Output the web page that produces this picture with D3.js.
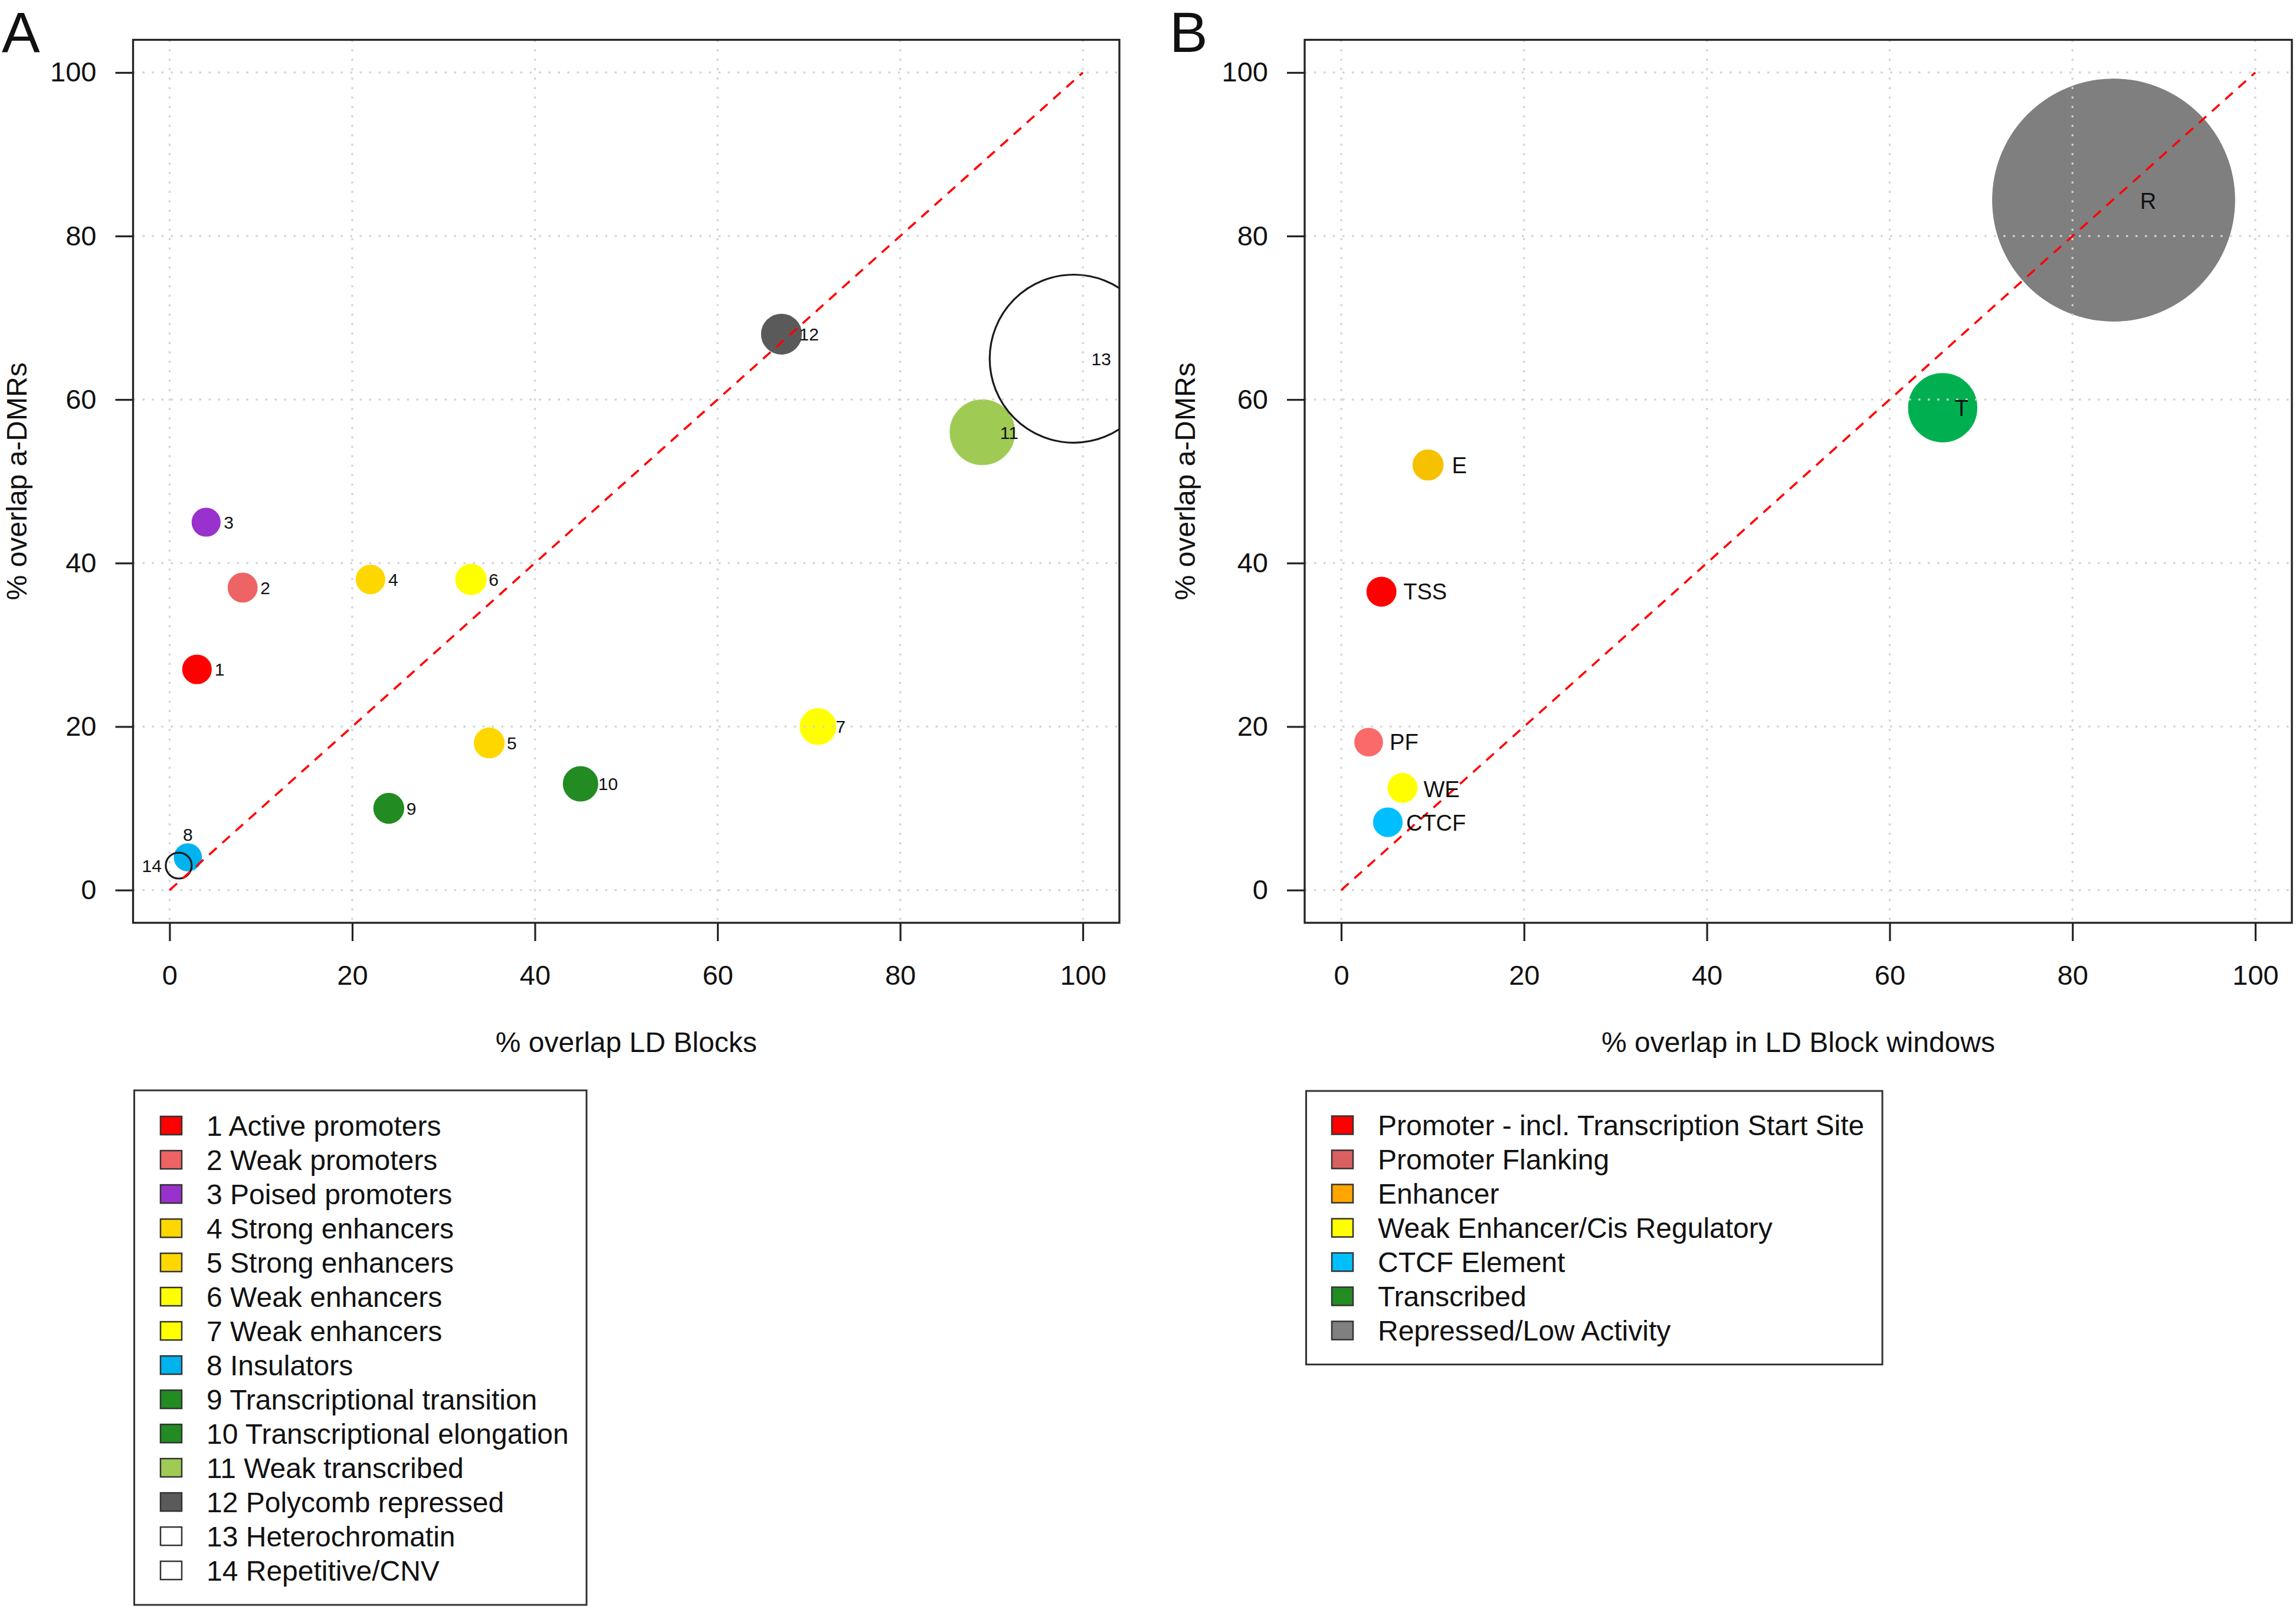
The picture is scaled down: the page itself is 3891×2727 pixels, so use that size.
<!DOCTYPE html>
<html>
<head>
<meta charset="utf-8">
<script src="https://cdn.jsdelivr.net/npm/d3@7"></script>
<style>
  body { margin: 0; background: #fff; }
  svg { display: block; }
  text { font-family: "Liberation Sans", Arial, Helvetica, sans-serif; fill: #111; }
</style>
</head>
<body>
<svg id="chart"></svg>
<script>
// ---------------- DATA ----------------
const ticks = [0, 20, 40, 60, 80, 100];

// Panel A: chromatin states (ChromHMM)
const statesA = [
  "1 Active promoters", "2 Weak promoters", "3 Poised promoters",
  "4 Strong enhancers", "5 Strong enhancers", "6 Weak enhancers",
  "7 Weak enhancers", "8 Insulators", "9 Transcriptional transition",
  "10 Transcriptional elongation", "11 Weak transcribed",
  "12 Polycomb repressed", "13 Heterochromatin", "14 Repetitive/CNV"
];
const labelsA = ["1","2","3","4","5","6","7","8","9","10","11","12","13","14"];
const xA = [3, 8, 4, 22, 35, 33, 71, 2, 24, 45, 89, 67, 99, 1];        // % overlap LD Blocks
const yA = [27, 37, 45, 38, 18, 38, 20, 4, 10, 13, 56, 68, 65, 3];     // % overlap a-DMRs
const sizeA = [1.58, 1.6, 1.55, 1.58, 1.65, 1.68, 1.97, 1.5, 1.65, 1.9, 3.55, 2.2, 9.2, 1.42]; // circle radius (x units)
const colorA = ["#FF0000", "#EE6363", "#9932CC", "#FFD700", "#FFD700", "#FFFF00",
                "#FFFF00", "#00B2EE", "#228B22", "#228B22", "#9FCB55", "#5A5A5A",
                "none", "none"];
const legendColorA = ["#FF0000", "#EE6363", "#9932CC", "#FFD700", "#FFD700", "#FFFF00",
                "#FFFF00", "#00B2EE", "#228B22", "#228B22", "#9FCB55", "#5A5A5A",
                "#FFFFFF", "#FFFFFF"];
const labelSideA = [4, 4, 4, 4, 4, 4, 4, 3, 4, 4, 4, 4, 4, 2]; // R text() pos codes

// Panel B: Ensembl regulatory build categories
const statesB = [
  "Promoter - incl. Transcription Start Site", "Promoter Flanking", "Enhancer",
  "Weak Enhancer/Cis Regulatory", "CTCF Element", "Transcribed", "Repressed/Low Activity"
];
const labelsB = ["TSS", "PF", "E", "WE", "CTCF", "T", "R"];
const xB = [4.4, 3.0, 9.5, 6.7, 5.1, 65.8, 84.5];     // % overlap in LD Block windows
const yB = [36.5, 18.1, 52.0, 12.5, 8.3, 59.0, 84.4]; // % overlap a-DMRs
const sizeB = [1.6, 1.53, 1.66, 1.6, 1.58, 3.75, 13.25];
const labelXB = [6.8, 5.3, 12.1, 9.0, 7.1, 67.1, 87.4];
const labelYB = [36.5, 18.1, 52.0, 12.35, 8.2, 59.0, 84.3];
const colorB = ["#FF0000", "#FA6A6A", "#F6C200", "#FFFF00", "#00BFFF", "#00B050", "#7F7F7F"];
const legendColorB = ["#FF0000", "#D9605F", "#FFA500", "#FFFF00", "#00BFFF", "#228B22", "#808080"];

// ---------------- DRAWING ----------------
const W = 3891, H = 2727;
const svg = d3.select("#chart").attr("width", W).attr("height", H)
  .attr("viewBox", `0 0 ${W} ${H}`);
svg.append("rect").attr("width", W).attr("height", H).attr("fill", "#fff");

function drawPanel(cfg) {
  const { box, id } = cfg;
  const g = svg.append("g");
  const x = d3.scaleLinear().domain([-4, 104]).range([box.x0, box.x1]);
  const y = d3.scaleLinear().domain([-4, 104]).range([box.y1, box.y0]);
  const rad = v => x(v) - x(0);

  g.append("clipPath").attr("id", "clip" + id)
    .append("rect").attr("x", box.x0).attr("y", box.y0)
    .attr("width", box.x1 - box.x0).attr("height", box.y1 - box.y0);

  const plot = g.append("g").attr("clip-path", `url(#clip${id})`);

  // circles
  plot.selectAll("circle.pt").data(cfg.xs).join("circle")
    .attr("class", "pt")
    .attr("cx", (d) => x(d))
    .attr("cy", (d, i) => y(cfg.ys[i]))
    .attr("r", (d, i) => rad(cfg.sizes[i]))
    .attr("fill", (d, i) => cfg.colors[i])
    .attr("stroke", (d, i) => cfg.colors[i] === "none" ? "#1a1a1a" : cfg.colors[i])
    .attr("stroke-width", (d, i) => cfg.colors[i] === "none" ? 3.2 : 1.2);

  // grid
  plot.selectAll("line.gv").data(ticks).join("line").attr("class", "gv")
    .attr("x1", d => x(d)).attr("x2", d => x(d))
    .attr("y1", box.y0).attr("y2", box.y1);
  plot.selectAll("line.gh").data(ticks).join("line").attr("class", "gh")
    .attr("y1", d => y(d)).attr("y2", d => y(d))
    .attr("x1", box.x0).attr("x2", box.x1);
  plot.selectAll("line.gv, line.gh")
    .attr("stroke", "#d3d3d3").attr("stroke-width", 3.2)
    .attr("stroke-dasharray", "3.5,12.5");

  // identity line
  plot.append("line")
    .attr("x1", x(0)).attr("y1", y(0)).attr("x2", x(100)).attr("y2", y(100))
    .attr("stroke", "#FF0000").attr("stroke-width", 3.6)
    .attr("stroke-dasharray", "17,13");

  // point labels
  cfg.drawLabels(plot, x, y, rad);

  // box
  g.append("rect").attr("x", box.x0).attr("y", box.y0)
    .attr("width", box.x1 - box.x0).attr("height", box.y1 - box.y0)
    .attr("fill", "none").attr("stroke", "#222").attr("stroke-width", 3.3);

  // axes
  const ax = g.append("g").attr("transform", `translate(0,${box.y1})`)
    .call(d3.axisBottom(x).tickValues(ticks).tickSize(31).tickPadding(41));
  const ay = g.append("g").attr("transform", `translate(${box.x0},0)`)
    .call(d3.axisLeft(y).tickValues(ticks).tickSize(30).tickPadding(32));
  [ax, ay].forEach(a => {
    a.select(".domain").remove();
    a.selectAll(".tick line").attr("stroke", "#222").attr("stroke-width", 3.2);
    a.selectAll(".tick text").attr("font-size", 47)
      .attr("font-family", "Liberation Sans, Arial, sans-serif").attr("fill", "#111");
  });

  // titles
  g.append("text").attr("x", (box.x0 + box.x1) / 2).attr("y", 1783)
    .attr("text-anchor", "middle").attr("font-size", 48).text(cfg.xTitle);
  g.append("text")
    .attr("transform", `translate(${cfg.yTitleX},${(box.y0 + box.y1) / 2}) rotate(-90)`)
    .attr("text-anchor", "middle").attr("font-size", 48).text(cfg.yTitle);
  g.append("text").attr("x", cfg.letterX).attr("y", 88)
    .attr("font-size", 97).text(cfg.letter);

  // legend
  const L = cfg.legend;
  const lg = g.append("g");
  lg.append("rect").attr("x", L.x0).attr("y", L.y0)
    .attr("width", L.x1 - L.x0).attr("height", L.y1 - L.y0)
    .attr("fill", "#fff").attr("stroke", "#333").attr("stroke-width", 3);
  const row = lg.selectAll("g.row").data(L.items).join("g").attr("class", "row")
    .attr("transform", (d, i) => `translate(0,${L.firstY + i * 58})`);
  row.append("rect").attr("x", L.swX).attr("y", -15.5).attr("width", 36).attr("height", 31)
    .attr("fill", (d, i) => L.colors[i]).attr("stroke", "#333").attr("stroke-width", 2.5);
  row.append("text").attr("x", L.textX).attr("y", 17)
    .attr("font-size", 48).text(d => d);
}

// Panel A
drawPanel({
  id: "A",
  box: { x0: 225.5, x1: 1897, y0: 67.5, y1: 1564 },
  xs: xA, ys: yA, sizes: sizeA, colors: colorA,
  xTitle: "% overlap LD Blocks", yTitle: "% overlap a-DMRs",
  yTitleX: 45, letter: "A", letterX: 3,
  drawLabels: (p, x, y) => {
    p.selectAll("text.lab").data(labelsA).join("text").attr("class", "lab")
      .attr("font-size", 30)
      .attr("x", (d, i) => labelSideA[i] === 4 ? x(xA[i]) + 30 : labelSideA[i] === 2 ? x(xA[i]) - 29 : x(xA[i]))
      .attr("y", (d, i) => labelSideA[i] === 3 ? y(yA[i]) - 39 + 11 : y(yA[i]) + 11)
      .attr("text-anchor", (d, i) => labelSideA[i] === 4 ? "start" : labelSideA[i] === 2 ? "end" : "middle")
      .text(d => d);
  },
  legend: { x0: 227.5, x1: 994, y0: 1848, y1: 2720, firstY: 1907.6,
            swX: 272, textX: 350, items: statesA, colors: legendColorA }
});

// Panel B
drawPanel({
  id: "B",
  box: { x0: 2211, x1: 3884, y0: 67.5, y1: 1564 },
  xs: xB, ys: yB, sizes: sizeB, colors: colorB,
  xTitle: "% overlap in LD Block windows", yTitle: "% overlap a-DMRs",
  yTitleX: 2025, letter: "B", letterX: 1982,
  drawLabels: (p, x, y) => {
    p.selectAll("text.lab").data(labelsB).join("text").attr("class", "lab")
      .attr("font-size", 38)
      .attr("x", (d, i) => x(labelXB[i]))
      .attr("y", (d, i) => y(labelYB[i]) + 13.5)
      .text(d => d);
  },
  legend: { x0: 2213.5, x1: 3190, y0: 1849, y1: 2312.6, firstY: 1907,
            swX: 2257, textX: 2335, items: statesB, colors: legendColorB }
});
</script>
</body>
</html>
